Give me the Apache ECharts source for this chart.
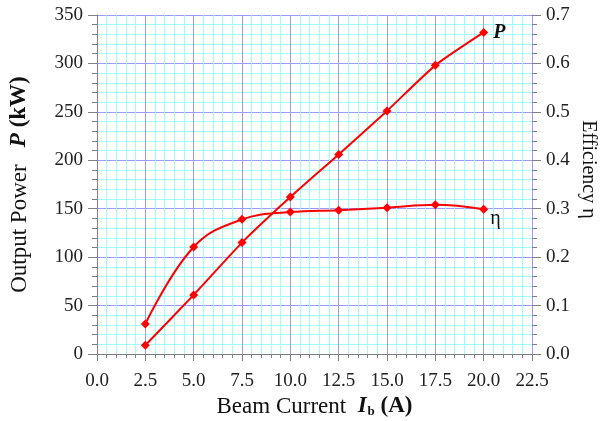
<!DOCTYPE html>
<html>
<head>
<meta charset="utf-8">
<script src="https://cdn.jsdelivr.net/npm/echarts@6/dist/echarts.min.js"></script>
<style>html,body{margin:0;padding:0;background:#fff}#c{width:606px;height:421px}</style>
</head>
<body>
<div id="c"></div>
<script>
const current = [2.5, 5, 7.5, 10, 12.5, 15, 17.5, 20];
const power = [9, 61, 115, 162, 206, 251, 298, 332];
const efficiency = [0.062, 0.221, 0.278, 0.293, 0.297, 0.302, 0.308, 0.299];
const xTicks = [0, 2.5, 5, 7.5, 10, 12.5, 15, 17.5, 20, 22.5];
const powerTicks = [0, 50, 100, 150, 200, 250, 300, 350];
const effTicks = [0, 0.1, 0.2, 0.3, 0.4, 0.5, 0.6, 0.7];

const FONT = 'Liberation Serif';
const gray = '#808080';
const major = '#9a9aff';
const minor = '#9ffcff';

const chart = echarts.init(document.getElementById('c'), null, {renderer: 'canvas'});
const pairs = (xs, ys) => xs.map((x, i) => [x, ys[i]]);
const n = current.length;

chart.setOption({
  animation: false,
  backgroundColor: '#fff',
  textStyle: {fontFamily: FONT},
  grid: {left: 97, right: 74, top: 15, bottom: 67, containLabel: false, outerBoundsMode: 'none'},
  xAxis: {
    type: 'value', min: xTicks[0], max: xTicks[xTicks.length - 1], interval: 2.5,
    axisLine: {show: true, lineStyle: {color: gray, width: 1}},
    axisTick: {show: true, length: 7, lineStyle: {color: gray}},
    minorTick: {show: true, splitNumber: 5, length: 4, lineStyle: {color: gray}},
    splitLine: {show: true, lineStyle: {color: major, width: 1}},
    minorSplitLine: {show: true, lineStyle: {color: minor, width: 1}},
    axisLabel: {fontFamily: FONT, fontSize: 19, color: '#222', margin: 18, formatter: v => v.toFixed(1)},
    name: '{n|Beam Current  }{i|I}{s|b}{n| }{b|(A)}',
    nameLocation: 'middle', nameGap: 41, nameMoveOverlap: false,
    nameTextStyle: {
      rich: {
        n: {fontFamily: FONT, fontSize: 23, color: '#111'},
        i: {fontFamily: FONT, fontSize: 23, fontWeight: 'bold', fontStyle: 'italic', color: '#111'},
        s: {fontFamily: FONT, fontSize: 13, fontWeight: 'bold', color: '#111', padding: [10, 0, 0, 1]},
        b: {fontFamily: FONT, fontSize: 23, fontWeight: 'bold', color: '#111'}
      }
    }
  },
  yAxis: [{
    type: 'value', min: 0, max: 350, interval: 50,
    axisLine: {show: true, lineStyle: {color: gray}},
    axisTick: {show: true, length: 9, lineStyle: {color: gray}},
    minorTick: {show: true, splitNumber: 5, length: 5, lineStyle: {color: gray}},
    splitLine: {show: true, lineStyle: {color: major}},
    minorSplitLine: {show: true, lineStyle: {color: minor}},
    axisLabel: {fontFamily: FONT, fontSize: 19, color: '#222', margin: 14},
    name: '{n|Output Power   }{i|P}{b| (kW)}',
    nameLocation: 'middle', nameGap: 66, nameRotate: 90, nameMoveOverlap: false,
    nameTextStyle: {
      rich: {
        n: {fontFamily: FONT, fontSize: 23, color: '#111'},
        i: {fontFamily: FONT, fontSize: 23, fontWeight: 'bold', fontStyle: 'italic', color: '#111'},
        b: {fontFamily: FONT, fontSize: 23, fontWeight: 'bold', color: '#111'}
      }
    }
  }, {
    type: 'value', min: 0, max: 0.7, interval: 0.1, position: 'right',
    axisLine: {show: true, lineStyle: {color: major}},
    axisTick: {show: true, length: 9, lineStyle: {color: gray}},
    minorTick: {show: true, splitNumber: 5, length: 5, lineStyle: {color: gray}},
    splitLine: {show: false},
    minorSplitLine: {show: false},
    axisLabel: {fontFamily: FONT, fontSize: 19, color: '#222', margin: 14, formatter: v => v.toFixed(1)},
    name: 'Efficiency η',
    nameLocation: 'middle', nameGap: 46, nameRotate: -90, nameMoveOverlap: false,
    nameTextStyle: {fontFamily: FONT, fontSize: 20, color: '#111', padding: [0, 30, 0, 0]}
  }],
  series: [{
    name: 'P', type: 'line', yAxisIndex: 0, smooth: 0.2,
    data: pairs(current, power).map((d, i) => i === n - 1 ? {value: d, label: {show: true}} : d),
    symbol: 'diamond', symbolSize: 9,
    itemStyle: {color: '#ff0000'},
    lineStyle: {color: '#ff0000', width: 2},
    label: {show: false, position: 'right', distance: 5, formatter: 'P', fontFamily: FONT, fontSize: 20, fontWeight: 'bold', fontStyle: 'italic', color: '#111'}
  }, {
    name: 'η', type: 'line', yAxisIndex: 1, smooth: 0.4,
    data: pairs(current, efficiency).map((d, i) => i === n - 1 ? {value: d, label: {show: true}} : d),
    symbol: 'diamond', symbolSize: 9,
    itemStyle: {color: '#ff0000'},
    lineStyle: {color: '#ff0000', width: 2},
    label: {show: false, position: 'right', distance: 2, offset: [0, 10], formatter: 'η', fontFamily: FONT, fontSize: 20, color: '#111'}
  }]
});
</script>
</body>
</html>
